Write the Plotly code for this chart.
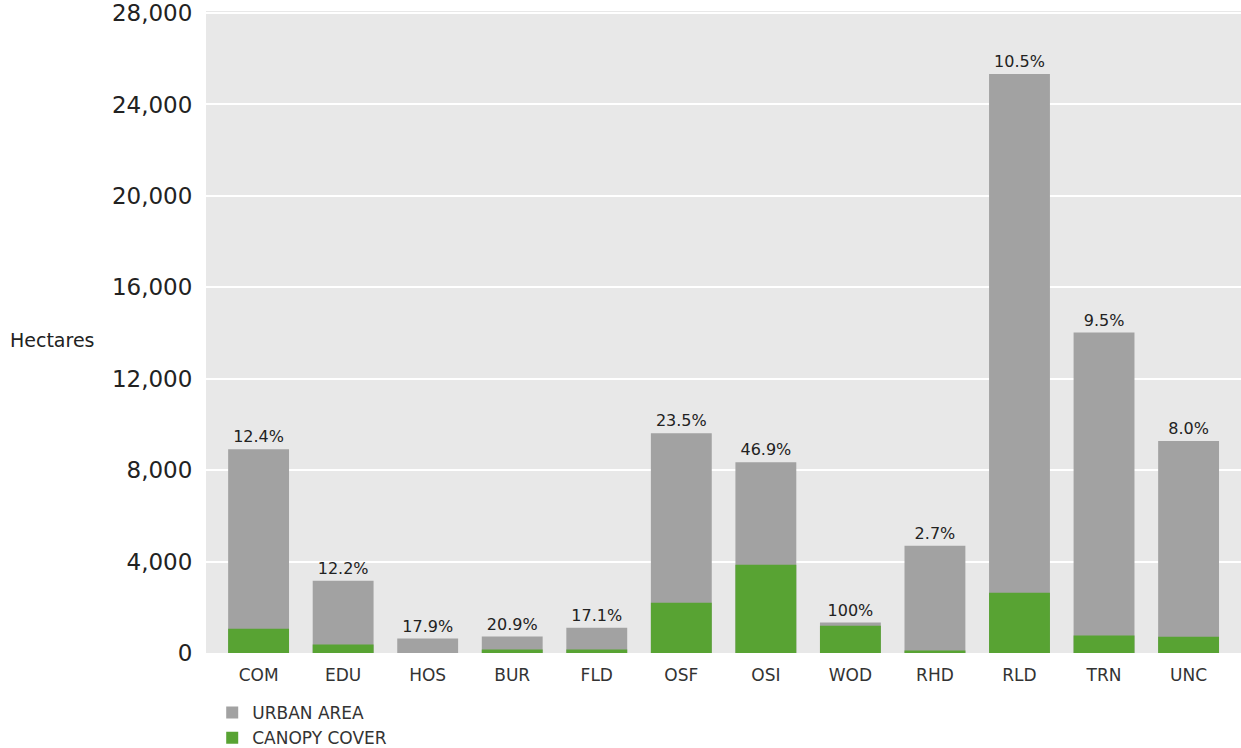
import plotly.graph_objects as go

categories = ["COM", "EDU", "HOS", "BUR", "FLD", "OSF", "OSI", "WOD", "RHD", "RLD", "TRN", "UNC"]
urban_area = [8920, 3160, 630, 720, 1110, 9620, 8350, 1330, 4690, 25330, 14020, 9280]
canopy_cover = [1065, 370, None, 150, 150, 2200, 3860, 1195, 105, 2640, 765, 715]
pct_labels = ["12.4%", "12.2%", "17.9%", "20.9%", "17.1%", "23.5%", "46.9%", "100%", "2.7%", "10.5%", "9.5%", "8.0%"]
y_ticks = [0, 4000, 8000, 12000, 16000, 20000, 24000, 28000]

FONT = "DejaVu Sans"

fig = go.Figure()
fig.add_trace(go.Bar(
    x=categories, y=urban_area, name="URBAN AREA",
    marker=dict(color="#a2a2a2", line=dict(width=0)), width=0.72,
    text=pct_labels, textposition="outside", cliponaxis=False,
    textfont=dict(family=FONT, size=16, color="#222222"),
    hoverinfo="x+y",
))
fig.add_trace(go.Bar(
    x=categories, y=canopy_cover, name="CANOPY COVER",
    marker=dict(color="#58a333", line=dict(width=0)), width=0.72,
    hoverinfo="x+y",
))

fig.update_layout(
    width=1241, height=748,
    barmode="overlay",
    paper_bgcolor="white", plot_bgcolor="#e8e8e8",
    margin=dict(l=206, r=0, t=11, b=95, autoexpand=False),
    font=dict(family=FONT, color="#222222"),
    showlegend=True,
    legend=dict(
        xref="container", yref="container",
        x=0.171, y=1 - 695 / 748, xanchor="left", yanchor="top",
        orientation="v", traceorder="normal",
        font=dict(family=FONT, size=17, color="#333333"),
        bgcolor="rgba(0,0,0,0)", itemclick=False,
    ),
    xaxis=dict(
        range=[-0.622, 11.62], showgrid=False, zeroline=False, automargin=False,
        tickfont=dict(family=FONT, size=17, color="#333333"),
        ticks="outside", ticklen=7, tickcolor="rgba(0,0,0,0)", showline=False,
    ),
    yaxis=dict(
        range=[0, 28090], tickvals=y_ticks, tickformat=",d", automargin=False,
        gridcolor="white", gridwidth=2, zeroline=False, showline=False,
        tickfont=dict(family=FONT, size=23, color="#222222"),
        ticks="outside", ticklen=8, tickcolor="rgba(0,0,0,0)",
    ),
    annotations=[dict(
        text="Hectares", xref="paper", yref="paper",
        x=-0.191, y=0.487, xanchor="left", yanchor="middle",
        showarrow=False, font=dict(family=FONT, size=19, color="#222222"),
    )],
)

fig.write_html(
    "out.html",
    config={"displayModeBar": False},
    post_script="document.body.style.margin='0';document.body.style.overflow='hidden';",
)
